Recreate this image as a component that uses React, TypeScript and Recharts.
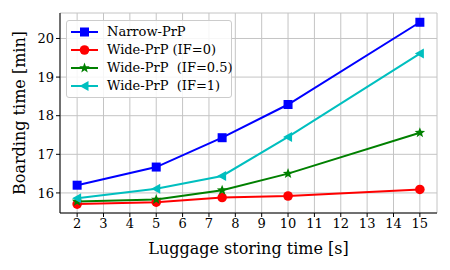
import React from "react"
import {
  LineChart, Line, XAxis, YAxis, CartesianGrid, Legend,
} from "recharts"

const storingTimes = [2, 5, 7.5, 10, 15]
const narrowPrP = [16.2, 16.67, 17.43, 18.29, 20.42]
const widePrPIF0 = [15.71, 15.76, 15.88, 15.92, 16.09]
const widePrPIF05 = [15.78, 15.83, 16.07, 16.5, 17.56]
const widePrPIF1 = [15.86, 16.11, 16.44, 17.45, 19.61]

const xTicks = [2, 3, 4, 5, 6, 7, 8, 9, 10, 11, 12, 13, 14, 15]
const yTicks = [16, 17, 18, 19, 20]

const FONT = "'DejaVu Serif', serif"

type Marker = "square" | "circle" | "star" | "triangle"

const series: { key: string; name: string; color: string; marker: Marker; values: number[] }[] = [
  { key: "narrow", name: "Narrow-PrP", color: "#0000ff", marker: "square", values: narrowPrP },
  { key: "if0", name: "Wide-PrP (IF=0)", color: "#ff0000", marker: "circle", values: widePrPIF0 },
  { key: "if05", name: "Wide-PrP  (IF=0.5)", color: "#008000", marker: "star", values: widePrPIF05 },
  { key: "if1", name: "Wide-PrP  (IF=1)", color: "#00bfbf", marker: "triangle", values: widePrPIF1 },
]

const data = storingTimes.map((x, i) => {
  const row: Record<string, number> = { x }
  for (const s of series) row[s.key] = s.values[i]
  return row
})

function starPoints(cx: number, cy: number, ro: number, ri: number) {
  const pts: string[] = []
  for (let i = 0; i < 10; i++) {
    const r = i % 2 === 0 ? ro : ri
    const a = -Math.PI / 2 + (i * Math.PI) / 5
    pts.push(`${cx + r * Math.cos(a)},${cy + r * Math.sin(a)}`)
  }
  return pts.join(" ")
}

function MarkerShape({ cx, cy, marker, color }: { cx: number; cy: number; marker: Marker; color: string }) {
  if (marker === "square") return <rect x={cx - 4.5} y={cy - 4.5} width={9} height={9} fill={color} />
  if (marker === "circle") return <circle cx={cx} cy={cy} r={4.8} fill={color} />
  if (marker === "star") return <polygon points={starPoints(cx, cy, 5.5, 2.3)} fill={color} />
  return <polygon points={`${cx - 5},${cy} ${cx + 4},${cy - 5} ${cx + 4},${cy + 5}`} fill={color} />
}

function LegendBox() {
  return (
    <div
      style={{
        border: "1px solid #cccccc",
        borderRadius: 3,
        background: "rgba(255,255,255,0.85)",
        padding: "2px 0 2px 4px",
        width: 166,
        boxSizing: "border-box",
        color: "#000",
      }}
    >
      {series.map((s) => (
        <div key={s.key} style={{ display: "flex", alignItems: "center", height: 18 }}>
          <svg width={28} height={14} style={{ marginRight: 8, flex: "none" }}>
            <line x1={0} y1={7} x2={27} y2={7} stroke={s.color} strokeWidth={2} />
            <MarkerShape cx={13.5} cy={7} marker={s.marker} color={s.color} />
          </svg>
          <span style={{ whiteSpace: "pre", fontFamily: FONT, fontSize: 13, fontWeight: 400, lineHeight: "18px" }}>
            {s.name}
          </span>
        </div>
      ))}
    </div>
  )
}

export default function App() {
  return (
    <div style={{ position: "absolute", left: 0, top: 0, width: 450, height: 270, background: "#fff" }}>
      <LineChart
        width={450}
        height={270}
        data={data}
        margin={{ top: 13, right: 13, left: 0, bottom: 0 }}
      >
        <CartesianGrid stroke="#c4c4c4" strokeWidth={1} />
        <XAxis
          dataKey="x"
          type="number"
          domain={[1.35, 15.65]}
          ticks={xTicks}
          allowDataOverflow
          height={57}
          tickSize={4}
          tick={{ fill: "#000", fontSize: 13, fontFamily: FONT }}
          tickLine={{ stroke: "#000" }}
          axisLine={{ stroke: "#000" }}
          label={{
            value: "Luggage storing time [s]",
            position: "insideBottom",
            offset: 16,
            fill: "#000",
            fontSize: 16,
            fontFamily: FONT,
          }}
        />
        <XAxis
          xAxisId="top"
          orientation="top"
          dataKey="x"
          type="number"
          domain={[1.35, 15.65]}
          height={0}
          tick={false}
          tickLine={false}
          axisLine={{ stroke: "#000" }}
        />
        <YAxis
          type="number"
          domain={[15.48, 20.66]}
          ticks={yTicks}
          allowDataOverflow
          width={60}
          tickSize={4}
          tick={{ fill: "#000", fontSize: 13, fontFamily: FONT }}
          tickLine={{ stroke: "#000" }}
          axisLine={{ stroke: "#000" }}
          label={{
            value: "Boarding time [min]",
            angle: -90,
            position: "insideLeft",
            offset: 19,
            style: { textAnchor: "middle" },
            fill: "#000",
            fontSize: 16,
            fontFamily: FONT,
          }}
        />
        <YAxis
          yAxisId="right"
          orientation="right"
          type="number"
          domain={[15.48, 20.66]}
          width={0}
          tick={false}
          tickLine={false}
          axisLine={{ stroke: "#000" }}
        />
        <Legend
          layout="vertical"
          align="center"
          verticalAlign="middle"
          content={() => <LegendBox />}
          wrapperStyle={{ left: 66, top: 20, width: "auto" }}
        />
        {series.map((s) => (
          <Line
            key={s.key}
            dataKey={s.key}
            name={s.name}
            stroke={s.color}
            strokeWidth={2}
            isAnimationActive={false}
            dot={(p: any) => (
              <MarkerShape key={`${s.key}-${p.index}`} cx={p.cx} cy={p.cy} marker={s.marker} color={s.color} />
            )}
            activeDot={false}
          />
        ))}
      </LineChart>
    </div>
  )
}
